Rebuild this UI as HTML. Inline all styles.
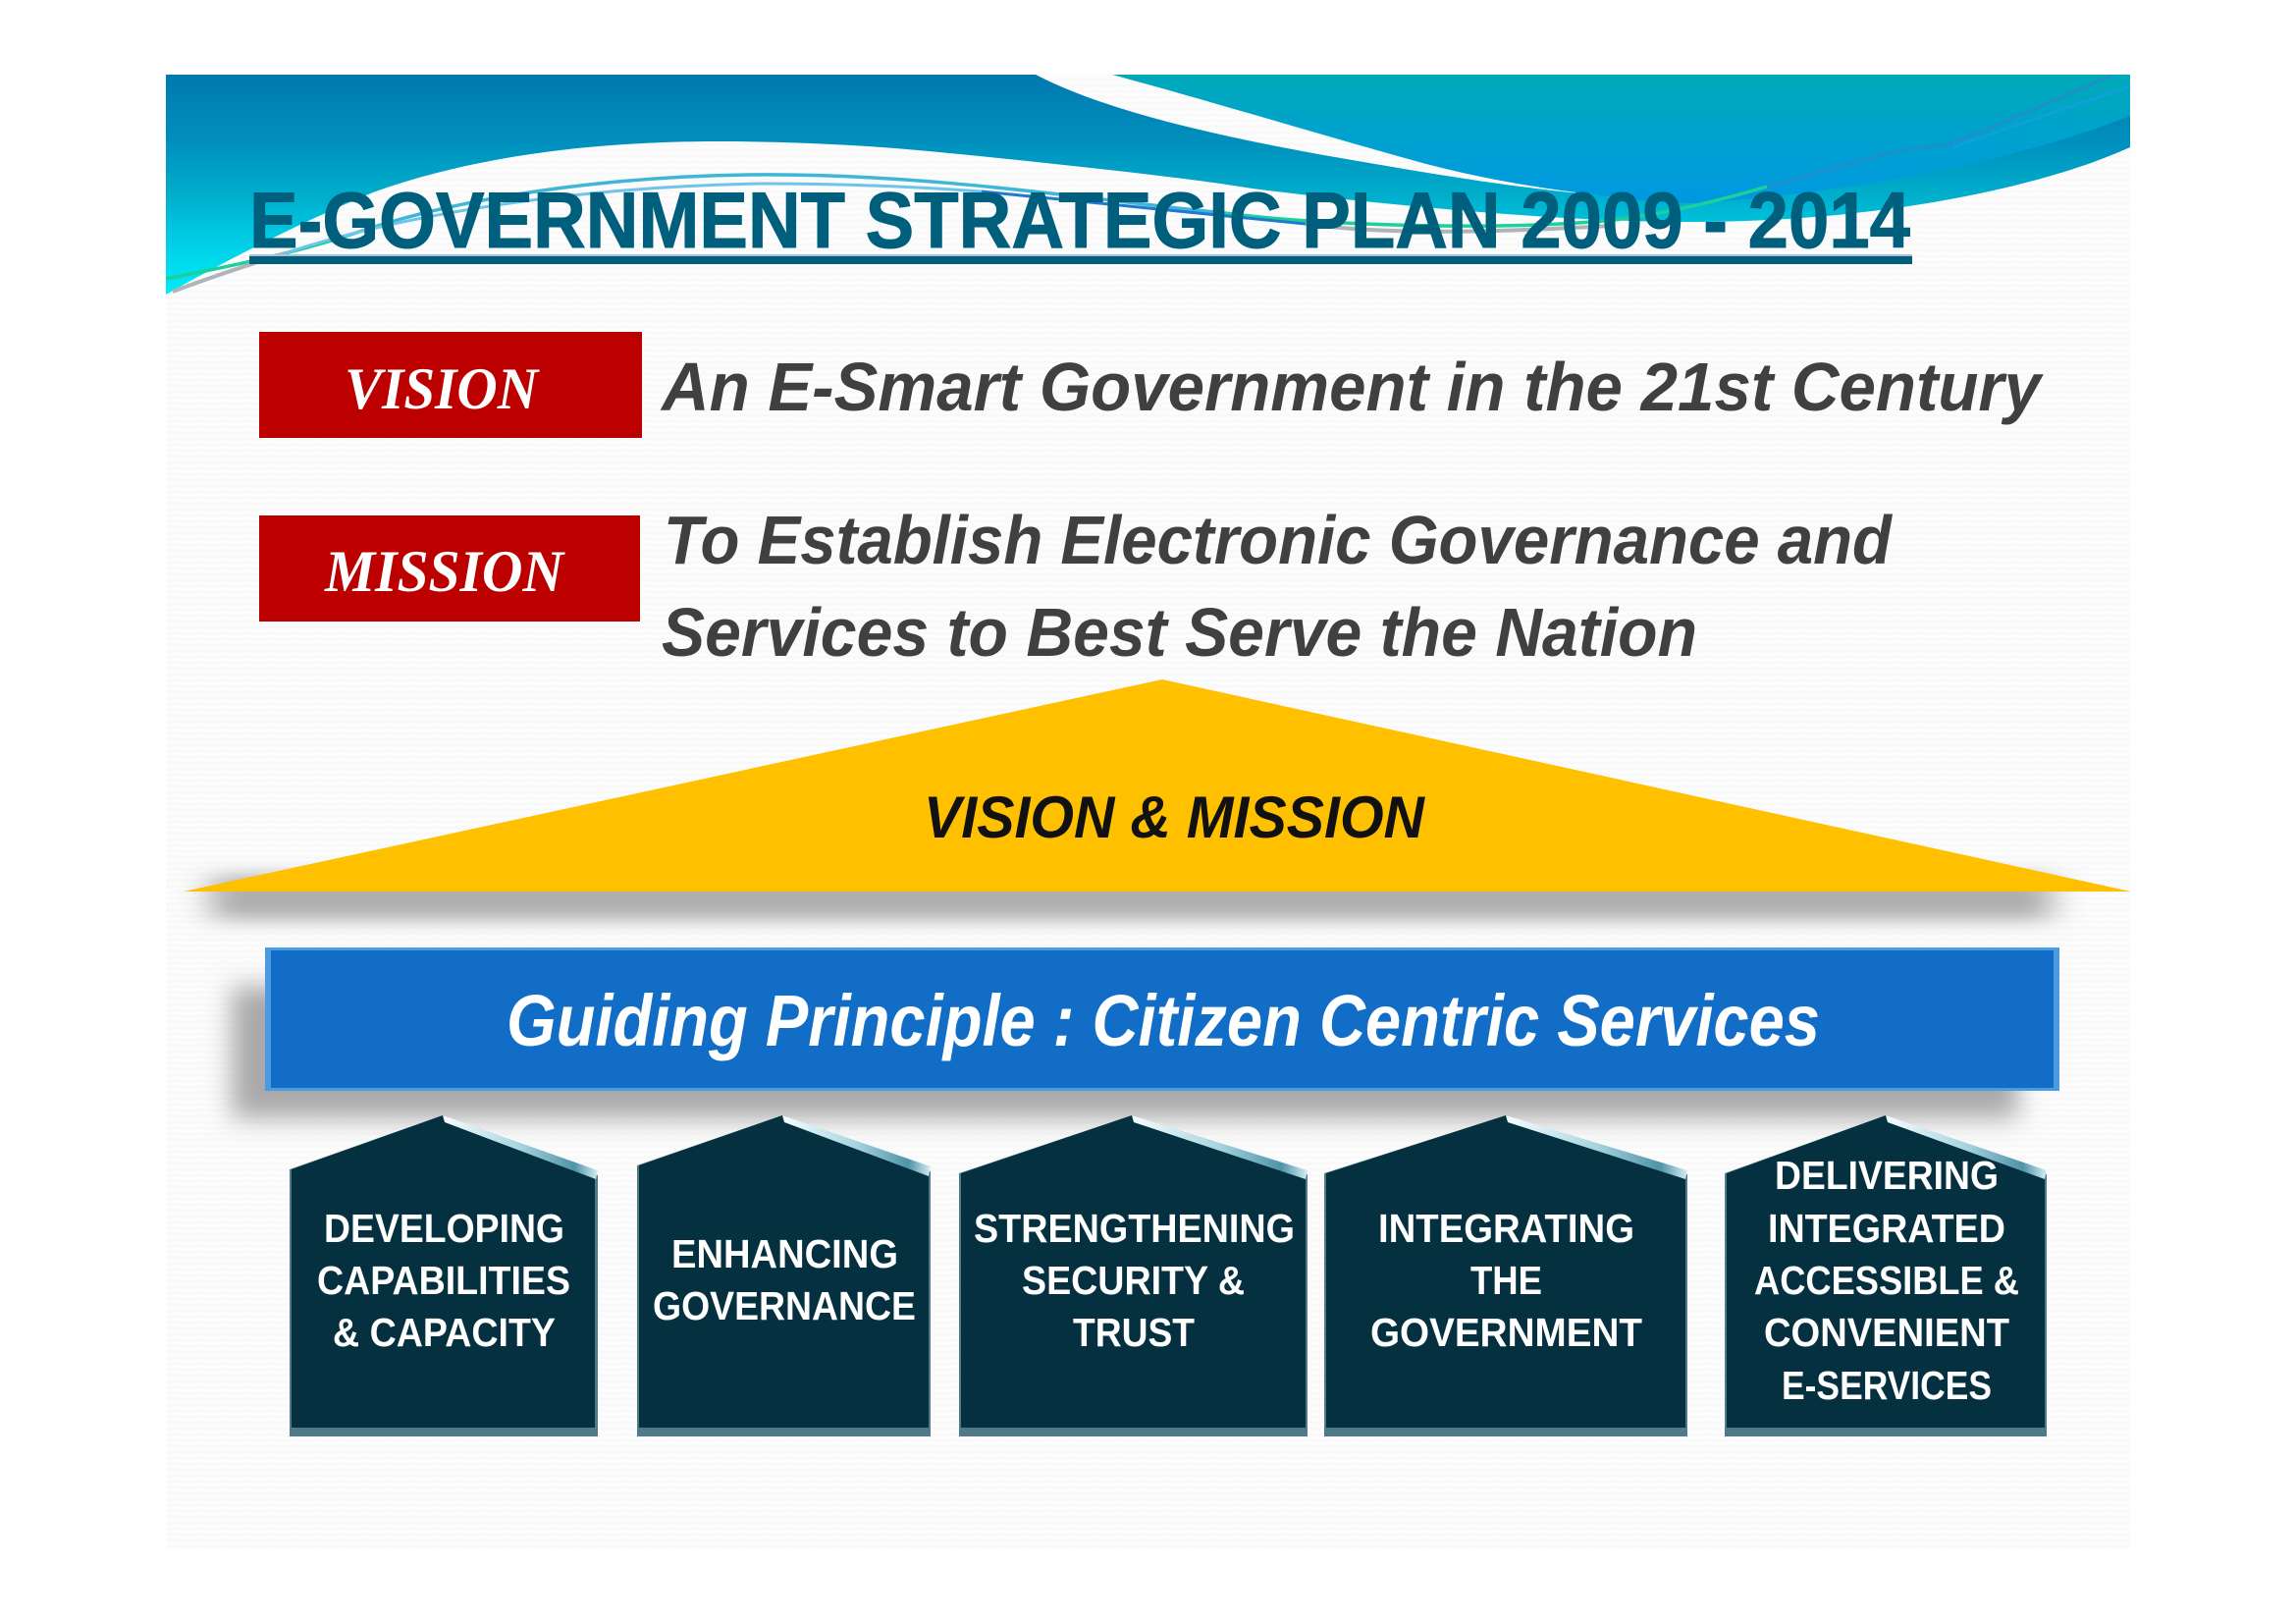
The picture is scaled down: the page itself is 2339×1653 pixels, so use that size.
<!DOCTYPE html>
<html lang="en">
<head>
<meta charset="utf-8">
<title>E-Government Strategic Plan 2009 - 2014</title>
<style>
html,body{margin:0;padding:0;background:#fff;width:2339px;height:1653px;overflow:hidden}
svg{display:block}
.sans{font-family:"Liberation Sans",sans-serif;font-weight:bold}
.serif{font-family:"Liberation Serif",serif;font-weight:bold;font-style:italic}
.house-text{font-family:"Liberation Sans",sans-serif;font-weight:bold;font-size:41px;fill:#fff}
</style>
</head>
<body>
<svg width="2339" height="1653" viewBox="0 0 2339 1653" xmlns="http://www.w3.org/2000/svg">
<defs>
<linearGradient id="gMain" gradientUnits="userSpaceOnUse" x1="0" y1="76" x2="0" y2="300">
<stop offset="0" stop-color="#0079ae"/><stop offset=".3" stop-color="#008fbd"/><stop offset=".55" stop-color="#00aecb"/><stop offset=".72" stop-color="#00c8e2"/><stop offset="1" stop-color="#00ecf8"/>
</linearGradient>
<linearGradient id="gTop" gradientUnits="userSpaceOnUse" x1="0" y1="76" x2="0" y2="207">
<stop offset="0" stop-color="#00a9b8"/><stop offset=".5" stop-color="#00a2cf"/><stop offset="1" stop-color="#0098e2"/>
</linearGradient>
<linearGradient id="gRoof" x1="0" y1="0" x2="1" y2="0">
<stop offset="0" stop-color="#f8fdfe"/><stop offset=".5" stop-color="#a6d4e0"/><stop offset=".85" stop-color="#4f93a8"/><stop offset="1" stop-color="#d4eef4"/>
</linearGradient>
<filter id="blur1" x="-5%" y="-200%" width="110%" height="500%"><feGaussianBlur stdDeviation="17 9"/></filter>
<filter id="blur2" x="-10%" y="-30%" width="120%" height="160%"><feGaussianBlur stdDeviation="13"/></filter>
<pattern id="tex" width="12" height="6" patternUnits="userSpaceOnUse">
<rect width="12" height="6" fill="#fcfcfc"/><path d="M0 4 L3 2 L6 4 L9 2 L12 4" fill="none" stroke="#f6f6f6" stroke-width="1"/>
</pattern>
</defs>

<rect x="169" y="76" width="2001" height="1502" fill="url(#tex)"/>

<g>
<path fill="url(#gMain)" d="M169 76 L1055 76 C1130 115 1250 140 1343 157 C1430 172 1530 190 1622 198 L1725 207 L2170 118 L2170 150 C2070 195 1900 226 1725 226 C1600 226 1450 212 1343 200 C1310 196 1280 193 1250 188 C1180 178 1060 165 967 156 C890 148 810 144 732 144 C600 144 480 160 380 196 C310 225 240 260 169 300 Z"/>
<path fill="url(#gTop)" d="M1133 76 L2170 76 L2170 118 C2040 170 1850 200 1725 207 C1690 207 1660 203 1622 198 C1570 192 1510 182 1453 167 C1340 136 1230 102 1133 76 Z"/>
<path fill="none" stroke="#3fb6d6" stroke-width="3.5" d="M360 238 C470 200 620 180 763 178 C950 176 1120 205 1248 217"/>
<path fill="none" stroke="#1bd09a" stroke-width="3.5" d="M169 284 C230 272 300 258 360 238 M1248 217 C1330 228 1500 235 1622 226 C1680 222 1750 205 1800 190"/>
<path fill="none" stroke="#aeb4b8" stroke-width="4" d="M176 297 C220 280 260 268 290 258 M1330 228 C1400 238 1500 238 1640 230"/>
<path fill="none" stroke="#6ec4ea" stroke-width="3" d="M290 258 C420 215 600 190 776 187 C860 187 930 190 1000 195"/>
<path fill="none" stroke="#1f79d0" stroke-width="3" d="M1000 195 C1110 205 1220 218 1330 228"/>
<path fill="none" stroke="#1e8fc8" stroke-width="3" d="M1800 190 C1870 172 1930 150 1982 148 C2050 122 2110 95 2150 77"/>
<path fill="none" stroke="#12a0dc" stroke-width="2.5" d="M1990 150 C2060 125 2120 105 2170 88"/>
</g>

<g>
<text class="sans" x="254" y="252" font-size="81" fill="#005f7d" stroke="#005f7d" stroke-width="1" textLength="1692" lengthAdjust="spacingAndGlyphs">E-GOVERNMENT STRATEGIC PLAN 2009 - 2014</text>
<rect x="254" y="259" width="1694" height="2" fill="#a9c3cc"/>
<rect x="254" y="261" width="1694" height="8" fill="#005f7d"/>
</g>

<g>
<rect x="264" y="338" width="390" height="108" fill="#bc0000"/>
<text class="serif" x="351" y="416" font-size="60" fill="#fff" textLength="197" lengthAdjust="spacingAndGlyphs">VISION</text>
<text class="sans" x="674" y="418" font-size="70" font-style="italic" fill="#404040" textLength="1405" lengthAdjust="spacingAndGlyphs">An E-Smart Government in the 21st Century</text>
</g>

<g>
<rect x="264" y="525" width="388" height="108" fill="#bc0000"/>
<text class="serif" x="331" y="602" font-size="60" fill="#fff" textLength="243" lengthAdjust="spacingAndGlyphs">MISSION</text>
<text class="sans" x="676" y="574" font-size="70" font-style="italic" fill="#404040" textLength="1251" lengthAdjust="spacingAndGlyphs">To Establish Electronic Governance and</text>
<text class="sans" x="674" y="668" font-size="70" font-style="italic" fill="#404040" textLength="1055" lengthAdjust="spacingAndGlyphs">Services to Best Serve the Nation</text>
</g>

<g>
<rect x="215" y="892" width="1875" height="45" fill="#aeaeae" filter="url(#blur1)"/>
<polygon points="187,908 1184,692 2171,908" fill="#ffc000"/>
<text class="sans" x="941" y="853" font-size="60" font-style="italic" fill="#111" textLength="510" lengthAdjust="spacingAndGlyphs">VISION &amp; MISSION</text>
</g>

<g>
<rect x="236" y="1005" width="1820" height="134" fill="#a9a9a9" filter="url(#blur2)"/>
<rect x="270" y="965" width="1828" height="146" fill="#4a9be2"/>
<rect x="276" y="968" width="1816" height="140" fill="#116dc6"/>
<text class="sans" x="516" y="1065" font-size="74" font-style="italic" fill="#fff" textLength="1338" lengthAdjust="spacingAndGlyphs">Guiding Principle : Citizen Centric Services</text>
</g>

<g>
<polygon points="295,1191 451,1136 609,1197 609,1463 295,1463" fill="#4f7a8a"/>
<polygon points="297,1191 451,1136 606,1199 606,1454 297,1454" fill="#04303f"/>
<polygon points="451,1136 609,1192 607,1201 453,1143" fill="url(#gRoof)"/>
<text class="house-text" x="330" y="1265" textLength="245" lengthAdjust="spacingAndGlyphs">DEVELOPING</text>
<text class="house-text" x="323" y="1318" textLength="258" lengthAdjust="spacingAndGlyphs">CAPABILITIES</text>
<text class="house-text" x="339" y="1371" textLength="227" lengthAdjust="spacingAndGlyphs">&amp; CAPACITY</text>
</g>

<g>
<polygon points="649,1187 797,1136 948,1193 948,1463 649,1463" fill="#4f7a8a"/>
<polygon points="651,1187 797,1136 946,1196 946,1454 651,1454" fill="#04303f"/>
<polygon points="797,1136 948,1188 946,1198 799,1143" fill="url(#gRoof)"/>
<text class="house-text" x="684" y="1291" textLength="231" lengthAdjust="spacingAndGlyphs">ENHANCING</text>
<text class="house-text" x="665" y="1344" textLength="268" lengthAdjust="spacingAndGlyphs">GOVERNANCE</text>
</g>

<g>
<polygon points="977,1195 1153,1136 1332,1196 1332,1463 977,1463" fill="#4f7a8a"/>
<polygon points="979,1195 1153,1136 1330,1199 1330,1454 979,1454" fill="#04303f"/>
<polygon points="1153,1136 1332,1192 1330,1201 1155,1143" fill="url(#gRoof)"/>
<text class="house-text" x="992" y="1265" textLength="327" lengthAdjust="spacingAndGlyphs">STRENGTHENING</text>
<text class="house-text" x="1041" y="1318" textLength="227" lengthAdjust="spacingAndGlyphs">SECURITY &amp;</text>
<text class="house-text" x="1093" y="1371" textLength="124" lengthAdjust="spacingAndGlyphs">TRUST</text>
</g>

<g>
<polygon points="1349,1195 1534,1136 1719,1196 1719,1463 1349,1463" fill="#4f7a8a"/>
<polygon points="1351,1195 1534,1136 1717,1199 1717,1454 1351,1454" fill="#04303f"/>
<polygon points="1534,1136 1719,1192 1717,1201 1536,1143" fill="url(#gRoof)"/>
<text class="house-text" x="1404" y="1265" textLength="261" lengthAdjust="spacingAndGlyphs">INTEGRATING</text>
<text class="house-text" x="1498" y="1318" textLength="73" lengthAdjust="spacingAndGlyphs">THE</text>
<text class="house-text" x="1396" y="1371" textLength="277" lengthAdjust="spacingAndGlyphs">GOVERNMENT</text>
</g>

<g>
<polygon points="1757,1195 1921,1136 2085,1196 2085,1463 1757,1463" fill="#4f7a8a"/>
<polygon points="1759,1195 1921,1136 2083,1199 2083,1454 1759,1454" fill="#04303f"/>
<polygon points="1921,1136 2085,1192 2083,1201 1923,1143" fill="url(#gRoof)"/>
<text class="house-text" x="1808" y="1211" textLength="228" lengthAdjust="spacingAndGlyphs">DELIVERING</text>
<text class="house-text" x="1801" y="1265" textLength="242" lengthAdjust="spacingAndGlyphs">INTEGRATED</text>
<text class="house-text" x="1787" y="1318" textLength="270" lengthAdjust="spacingAndGlyphs">ACCESSIBLE &amp;</text>
<text class="house-text" x="1797" y="1371" textLength="250" lengthAdjust="spacingAndGlyphs">CONVENIENT</text>
<text class="house-text" x="1815" y="1425" textLength="214" lengthAdjust="spacingAndGlyphs">E-SERVICES</text>
</g>
</svg>
</body>
</html>
